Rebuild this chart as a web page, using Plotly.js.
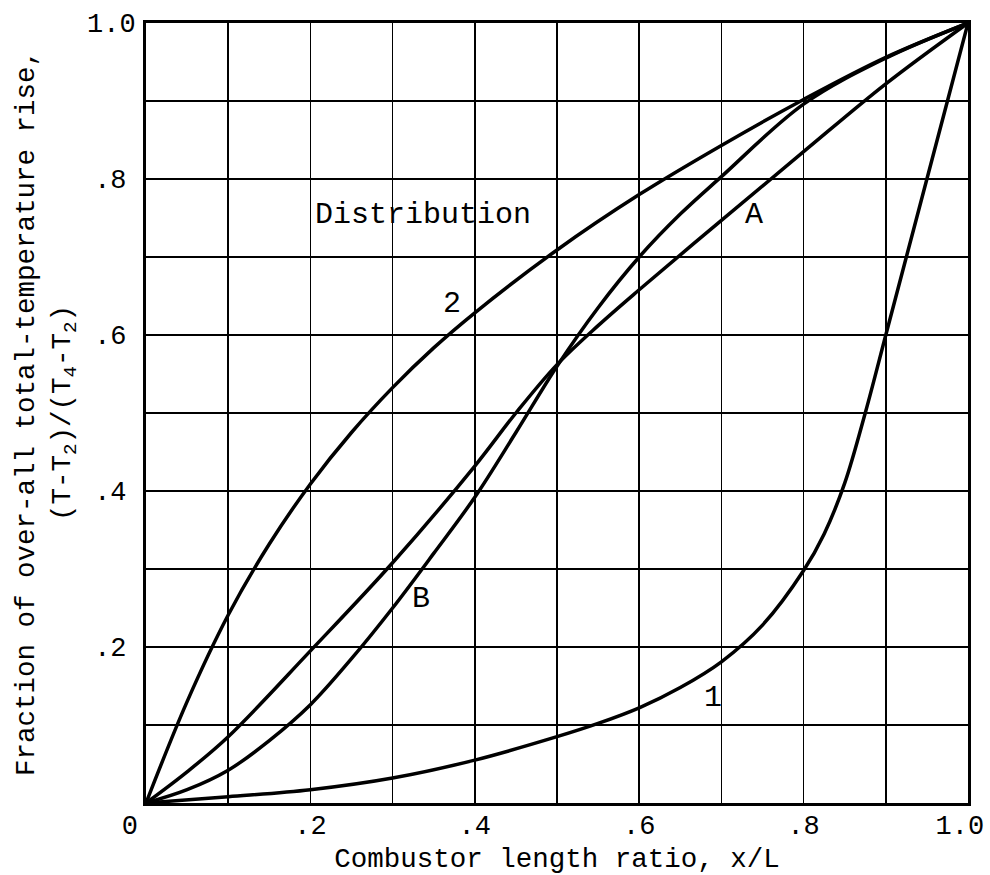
<!DOCTYPE html>
<html>
<head>
<meta charset="utf-8">
<script src="https://cdn.plot.ly/plotly-3.0.1.min.js"></script>
<style>
  html, body { margin: 0; padding: 0; background: #fff; }
  #chart { width: 990px; height: 875px; }
</style>
</head>
<body>
<div id="chart"></div>
<script>
// Temperature-rise distributions along the combustor (fraction of over-all rise vs x/L)
const dist1X = [0, 0.1, 0.2, 0.3, 0.4, 0.5, 0.55, 0.6, 0.65, 0.7, 0.75, 0.8, 0.825, 0.85, 0.875, 0.9, 0.925, 0.95, 0.975, 1.0];
const dist1Y = [0, 0.008, 0.017, 0.032, 0.055, 0.085, 0.102, 0.122, 0.148, 0.181, 0.228, 0.298, 0.345, 0.41, 0.50, 0.60, 0.70, 0.80, 0.90, 1.0];

const dist2X = [0, 0.05, 0.1, 0.15, 0.2, 0.25, 0.3, 0.35, 0.4, 0.5, 0.6, 0.7, 0.8, 0.9, 1.0];
const dist2Y = [0, 0.13, 0.241, 0.332, 0.409, 0.475, 0.5325, 0.5835, 0.6285, 0.709, 0.78, 0.843, 0.902, 0.956, 1.0];

const distAX = [0, 0.05, 0.1, 0.2, 0.3, 0.4, 0.45, 0.5, 0.55, 0.6, 0.7, 0.8, 0.9, 1.0];
const distAY = [0, 0.04, 0.085, 0.195, 0.308, 0.432, 0.50, 0.562, 0.612, 0.658, 0.747, 0.835, 0.922, 1.0];

const distBX = [0, 0.05, 0.1, 0.15, 0.2, 0.25, 0.3, 0.35, 0.4, 0.45, 0.5, 0.55, 0.6, 0.65, 0.7, 0.8, 0.9, 1.0];
const distBY = [0, 0.017, 0.042, 0.08, 0.126, 0.185, 0.25, 0.32, 0.392, 0.475, 0.56, 0.635, 0.70, 0.755, 0.803, 0.896, 0.955, 1.0];

// Axis ticks (a short trailing pad keeps the y labels aligned on the decimal point)
const PAD = '<span style="font-size:15px">\u00a0</span>';
const xTickVals = [0, 0.2, 0.4, 0.6, 0.8, 1.0];
const xTickText = ["0\u00a0\u00a0", ".2", ".4", ".6", ".8", "1.0\u00a0"];
const yTickVals = [0.2, 0.4, 0.6, 0.8, 1.0];
const yTickText = [".2" + PAD, ".4" + PAD, ".6" + PAD, ".8" + PAD, "1.0"];

// Curve labels
const labelText = ["Distribution", "A", "B", "2", "1"];
const labelX = [0.337, 0.74, 0.335, 0.372, 0.69];
const labelY = [0.754, 0.754, 0.262, 0.64, 0.135];

const FONT = "'Courier New', 'Liberation Mono', monospace";
const INK = "#000";

function curve(x, y) {
  return {
    x: x, y: y, type: "scatter", mode: "lines",
    line: { color: INK, width: 3.5, shape: "spline", smoothing: 1.0 },
    hoverinfo: "skip", showlegend: false
  };
}

const data = [
  curve(dist1X, dist1Y),
  curve(dist2X, dist2Y),
  curve(distAX, distAY),
  curve(distBX, distBY)
];

const annotations = labelText.map((t, i) => ({
  text: t, x: labelX[i], y: labelY[i], xref: "x", yref: "y",
  showarrow: false, font: { family: FONT, size: 30, color: INK }
}));

const gridStyle = { showgrid: true, gridcolor: INK, gridwidth: 1.5 };

const layout = {
  width: 990, height: 875,
  margin: { l: 146, r: 22, t: 23, b: 72 },
  paper_bgcolor: "#fff", plot_bgcolor: "#fff",
  font: { family: FONT, color: INK },
  showlegend: false,
  xaxis: Object.assign({
    range: [0, 1], automargin: false, fixedrange: true,
    tickmode: "array", tickvals: xTickVals, ticktext: xTickText,
    ticks: "", ticklabelstandoff: -4, ticklabeloverflow: "allow",
    tickfont: { family: FONT, size: 27, color: INK },
    showline: true, linecolor: INK, linewidth: 3, mirror: true, zeroline: false,
    minor: { dtick: 0.1, showgrid: true, gridcolor: INK, gridwidth: 1.5, ticks: "" },
    title: { text: "Combustor length ratio, x/L", standoff: 8,
             font: { family: FONT, size: 27.5, color: INK } }
  }, gridStyle),
  yaxis: Object.assign({
    range: [0, 1], automargin: false, fixedrange: true,
    tickmode: "array", tickvals: yTickVals, ticktext: yTickText,
    ticks: "", ticklabelstandoff: 2, ticklabeloverflow: "allow",
    tickfont: { family: FONT, size: 27, color: INK },
    showline: true, linecolor: INK, linewidth: 3, mirror: true, zeroline: false,
    minor: { dtick: 0.1, showgrid: true, gridcolor: INK, gridwidth: 1.5, ticks: "" },
    title: { text: "Fraction of over-all total-temperature rise,<br>(T-T<sub>2</sub>)/(T<sub>4</sub>-T<sub>2</sub>)",
             standoff: 9, font: { family: FONT, size: 27.5, color: INK } }
  }, gridStyle),
  annotations: annotations
};

Plotly.newPlot("chart", data, layout, { staticPlot: true, displayModeBar: false });
</script>
</body>
</html>
